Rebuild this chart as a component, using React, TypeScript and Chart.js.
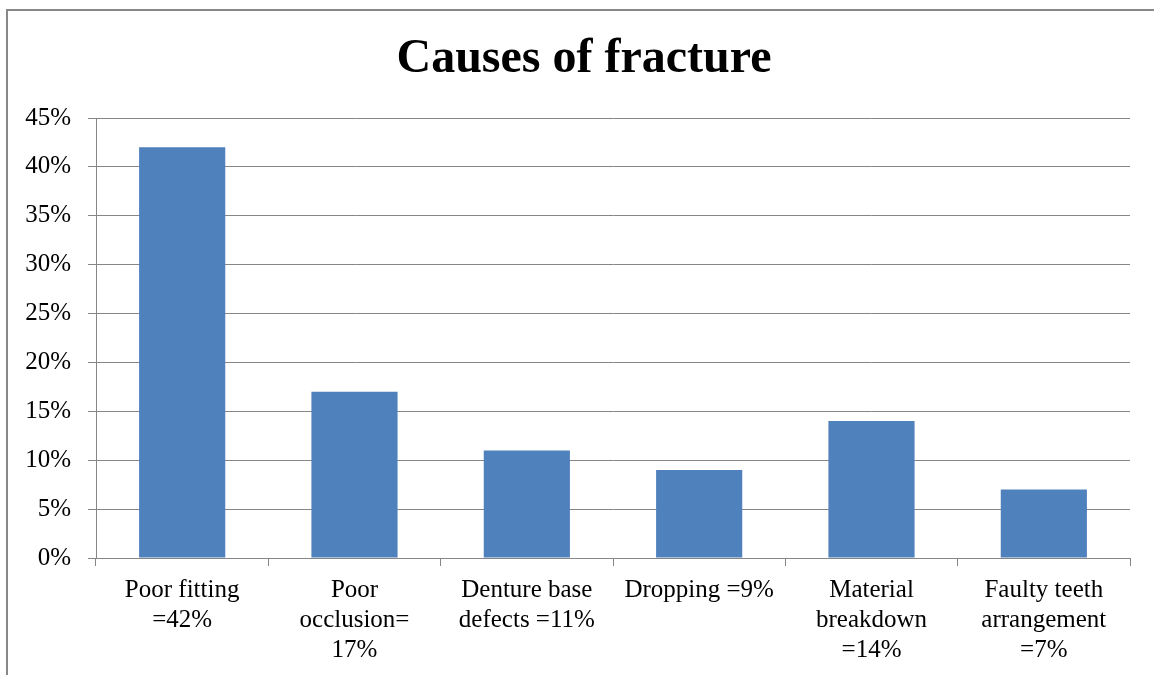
import React, { useEffect, useRef } from "react";
import { Chart, registerables } from "chart.js";

Chart.register(...registerables);

const categories: string[][] = [
  ["Poor fitting", "=42%"],
  ["Poor", "occlusion=", "17%"],
  ["Denture base", "defects =11%"],
  ["Dropping =9%"],
  ["Material", "breakdown", "=14%"],
  ["Faulty teeth", "arrangement", "=7%"],
];
const values: number[] = [42, 17, 11, 9, 14, 7];
const yMax = 45;
const yStep = 5;
const titleText = "Causes of fracture";

const FONT = "'Liberation Serif', 'Times New Roman', serif";
const GRID = "#868686";

const framePlugin = {
  id: "frame",
  beforeDraw(chart: any) {
    const ctx = chart.ctx;
    ctx.save();
    ctx.fillStyle = "#ffffff";
    ctx.fillRect(0, 0, chart.width, chart.height);
    ctx.strokeStyle = "#888888";
    ctx.lineWidth = 2;
    ctx.beginPath();
    ctx.moveTo(7, chart.height);
    ctx.lineTo(7, 10);
    ctx.lineTo(chart.width, 10);
    ctx.stroke();
    ctx.fillStyle = "#000000";
    ctx.font = "bold 48px " + FONT;
    ctx.textAlign = "center";
    ctx.textBaseline = "middle";
    ctx.fillText(titleText, 584, 60);
    ctx.restore();
  },
};

export default function App() {
  const ref = useRef<HTMLCanvasElement | null>(null);
  useEffect(() => {
    if (!ref.current) return;
    const chart = new Chart(ref.current, {
      type: "bar",
      data: {
        labels: categories,
        datasets: [
          {
            data: values,
            backgroundColor: "#4F81BD",
            borderWidth: 0,
            categoryPercentage: 1,
            barPercentage: 0.5,
          },
        ],
      },
      options: {
        responsive: false,
        animation: false,
        layout: { padding: { left: 0, right: 24, top: 118, bottom: 0 } },
        plugins: {
          legend: { display: false },
          tooltip: { enabled: false },
          title: { display: false },
        },
        scales: {
          x: {
            grid: {
              display: true,
              drawOnChartArea: false,
              drawTicks: true,
              tickLength: 8,
              color: GRID,
              offset: true,
            },
            border: { display: true, color: GRID, width: 1 },
            ticks: {
              color: "#000000",
              font: { family: FONT, size: 25, lineHeight: 1.2 },
              padding: 9,
              maxRotation: 0,
              autoSkip: false,
            },
            afterFit(scale: any) {
              scale.height = 117;
            },
          },
          y: {
            min: 0,
            max: yMax,
            grid: { color: GRID, tickLength: 8, drawTicks: true },
            border: { display: true, color: GRID, width: 1 },
            ticks: {
              stepSize: yStep,
              color: "#000000",
              font: { family: FONT, size: 25 },
              padding: 17,
              callback: (v: any) => v + "%",
            },
            afterFit(scale: any) {
              scale.width = 96;
            },
          },
        },
      },
      plugins: [framePlugin],
    });
    return () => chart.destroy();
  }, []);
  return (
    <div style={{ position: "fixed", left: 0, top: 0, width: 1154, height: 675, background: "#fff" }}>
      <canvas ref={ref} width={1154} height={675} style={{ display: "block" }} />
    </div>
  );
}
